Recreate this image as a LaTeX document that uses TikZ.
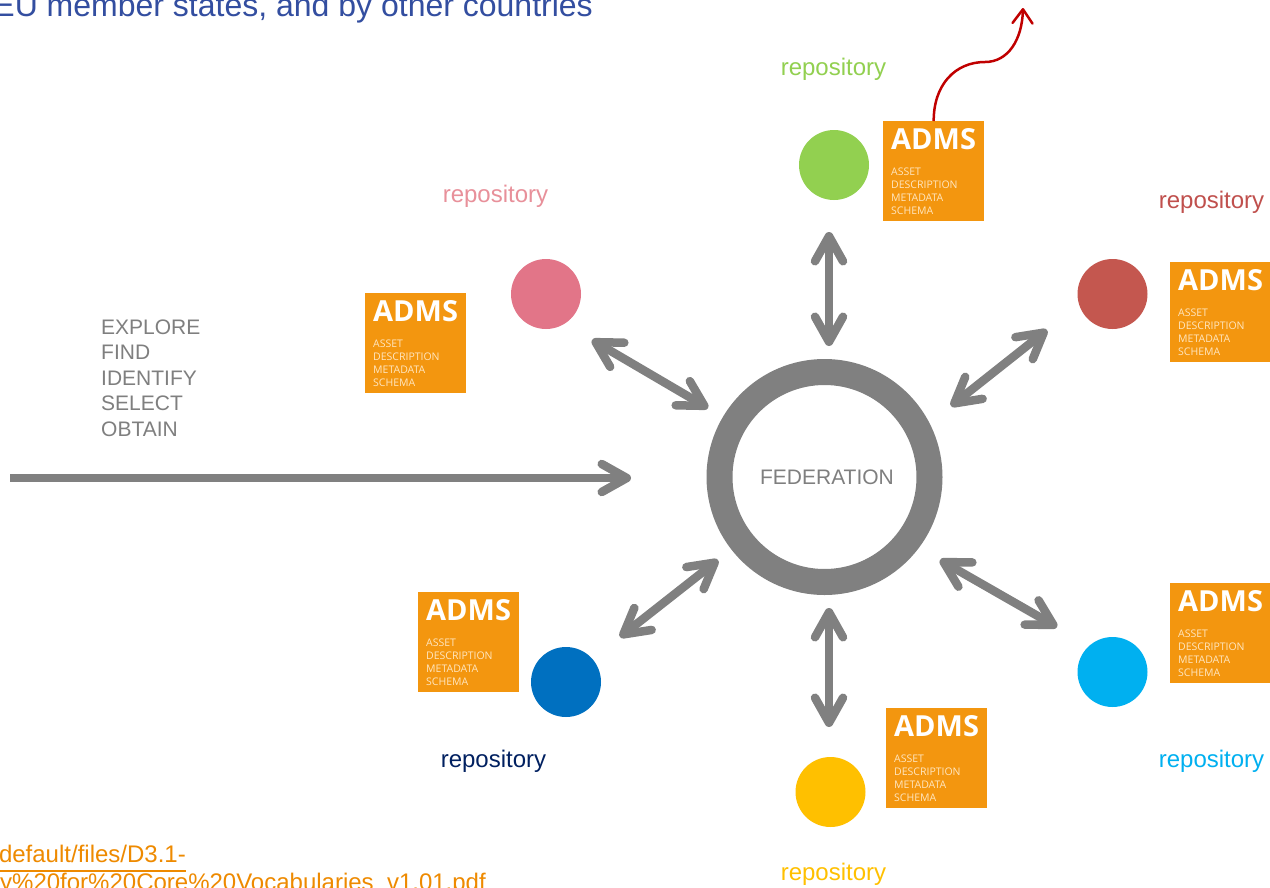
\documentclass[tikz,border=0pt]{standalone}
\usepackage{fontspec}
\setmainfont{Liberation Sans}
\newfontfamily\admsfont{Open Sans}
\usetikzlibrary{arrows.meta}
\definecolor{ringgray}{HTML}{808080}
\definecolor{txtgray}{HTML}{7F7F7F}
\definecolor{admsorange}{HTML}{F3960F}
\definecolor{admscream}{HTML}{FFE6C0}
\definecolor{cgreen}{HTML}{92D050}
\definecolor{cpink}{HTML}{E27588}
\definecolor{lpink}{HTML}{E8909A}
\definecolor{cred}{HTML}{C4574F}
\definecolor{lred}{HTML}{C0504D}
\definecolor{cblue}{HTML}{0070C0}
\definecolor{lnavy}{HTML}{002060}
\definecolor{ccyan}{HTML}{00B0F0}
\definecolor{cyellow}{HTML}{FFC000}
\definecolor{titleblue}{HTML}{334EA0}
\definecolor{linkorange}{HTML}{EE8A00}
\definecolor{darkred}{HTML}{C00000}
\tikzset{
  repo/.style={circle, fill=#1, draw=none, minimum size=70pt, inner sep=0pt},
  repolabel/.style={text=#1, anchor=base, inner sep=0pt, font=\fontsize{24}{28}\selectfont},
  adms/.style={fill=admsorange, draw=none, minimum width=101pt, minimum height=100pt, inner sep=0pt, anchor=north west},
  admsbig/.style={text=white, anchor=base west, inner sep=0pt, font=\admsfont\bfseries\fontsize{29}{31}\selectfont},
  admssmall/.style={text=admscream, anchor=base west, inner sep=0pt, font=\admsfont\fontsize{10.5}{13}\selectfont},
  garrow/.style={draw=ringgray, line width=8.5pt,
     {Straight Barb[length=25pt,width=28pt,round]}-{Straight Barb[length=25pt,width=28pt,round]}},
  gsingle/.style={draw=ringgray, line width=8.5pt, -{Straight Barb[length=25pt,width=28pt,round]}},
  redarrow/.style={draw=darkred, line width=2.5pt, -{Straight Barb[length=14pt,width=20pt,round]}},
  plaintext/.style={inner sep=0pt, text=txtgray, font=\fontsize{21}{25.5}\selectfont},
  linktext/.style={inner sep=0pt, text=linkorange, font=\fontsize{24}{28}\selectfont}
}
\newcommand\admsBox[2]{%
  \node[adms] (#1) at (#2) {};
  \node[admsbig] (#1-t) at ([shift={(8,28)}]#1.north west) {ADMS};
  \node[admssmall] (#1-a) at ([shift={(8,54)}]#1.north west) {ASSET};
  \node[admssmall] (#1-b) at ([shift={(8,67)}]#1.north west) {DESCRIPTION};
  \node[admssmall] (#1-c) at ([shift={(8,80)}]#1.north west) {METADATA};
  \node[admssmall] (#1-d) at ([shift={(8,93)}]#1.north west) {SCHEMA};
}
\begin{document}
\begin{tikzpicture}[x=1pt,y=-1pt]
\useasboundingbox (0,0) rectangle (1270,887);
\fill[white] (0,0) rectangle (1270,887);

% title (cut off)
\node[anchor=base east, inner sep=0pt, text=titleblue, font=\fontsize{32}{36}\selectfont] (title) at (593,16) {EU member states, and by other countries};

% federation ring
\node[circle, draw=ringgray, line width=26pt, minimum size=210pt, inner sep=0pt] (fed) at (824.5,477) {};
\node[plaintext, anchor=center] (fedtxt) at (827,477) {FEDERATION};

% repositories
\node[repo=cgreen] (rg) at (834,165) {};
\node[repo=cpink] (rp) at (546,294) {};
\node[repo=cred] (rr) at (1112.5,294) {};
\node[repo=cblue] (rb) at (566,682) {};
\node[repo=ccyan] (rc) at (1112.5,672) {};
\node[repo=cyellow] (ry) at (830.5,792) {};

\node[repolabel=cgreen] (lg) at (833.5,75) {repository};
\node[repolabel=lpink] (lp) at (495.5,202) {repository};
\node[repolabel=lred] (lr) at (1211.5,208.5) {repository};
\node[repolabel=lnavy] (lb) at (493.5,767) {repository};
\node[repolabel=ccyan] (lc) at (1211.5,767) {repository};
\node[repolabel=cyellow] (ly) at (833.5,880) {repository};

% ADMS boxes
\admsBox{bt}{883,121}
\admsBox{bl}{365,293}
\admsBox{br}{1170,262}
\admsBox{bll}{418,592}
\admsBox{brl}{1170,583}
\admsBox{bb}{886,708}

% explore text
\node[plaintext, anchor=base west] (e1) at (101,334) {EXPLORE};
\node[plaintext, anchor=base west] (e2) at (101,359.5) {FIND};
\node[plaintext, anchor=base west] (e3) at (101,385) {IDENTIFY};
\node[plaintext, anchor=base west] (e4) at (101,410.5) {SELECT};
\node[plaintext, anchor=base west] (e5) at (101,436) {OBTAIN};

% arrow end points
\coordinate (t1) at (829,232);  \coordinate (t2) at (829,346);
\coordinate (ul1) at (592,340); \coordinate (ul2) at (708,408);
\coordinate (ur1) at (1047,330); \coordinate (ur2) at (951,406);
\coordinate (ll1) at (620,637); \coordinate (ll2) at (718,560);
\coordinate (lr1) at (1057,627); \coordinate (lr2) at (940,560);
\coordinate (b1) at (829,608);  \coordinate (b2) at (829,727);
\coordinate (s1) at (10,478);   \coordinate (s2) at (631,478);

\draw[garrow] (t1) -- (t2);
\draw[garrow] (ul1) -- (ul2);
\draw[garrow] (ur1) -- (ur2);
\draw[garrow] (ll1) -- (ll2);
\draw[garrow] (lr1) -- (lr2);
\draw[garrow] (b1) -- (b2);
\draw[gsingle] (s1) -- (s2);

% red curved arrow
\coordinate (rtip) at (1023,8);
\draw[redarrow] (bt.north) .. controls (933.5,85) and (955,62) .. (985,62)
   .. controls (1008,62) and (1022,40) .. (rtip);

% link text (cut off)
\node[linktext, anchor=base east] (link1) at (186,862) {default/files/D3.1-};
\node[linktext, anchor=base west] (link2) at (0,890) {y\%20for\%20Core\%20Vocabularies\_v1.01.pdf};
\draw[linkorange, line width=2pt] ([yshift=-9pt]link1.base west) -- ([yshift=-9pt]link1.base east);
\end{tikzpicture}
\end{document}
